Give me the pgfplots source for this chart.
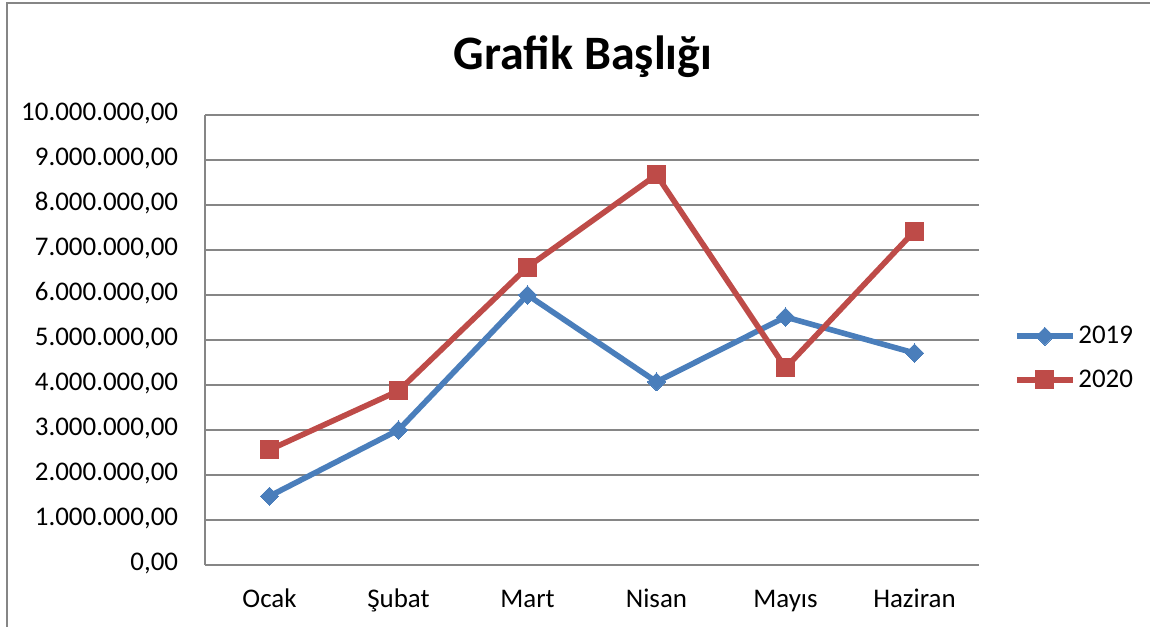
\documentclass[border=0pt]{standalone}
\usepackage{pgfplots}
\pgfplotsset{compat=1.18}
\usepackage{fontspec}
\setmainfont{Carlito}
\definecolor{s19}{HTML}{4A7EBB}
\definecolor{s20}{HTML}{BE4B48}
\definecolor{gridc}{HTML}{868686}
\begin{document}
\begin{tikzpicture}[x=0.75pt,y=0.75pt]
\useasboundingbox (0,0) rectangle (1150,627);
\draw[gridc, line width=1.5pt] (7,0) -- (7,624) -- (1150,624);
\node[font=\fontsize{36}{40}\selectfont\bfseries] at (583,570) {Grafik Başlığı};
\begin{axis}[
  at={(153.75pt,46.5pt)}, anchor=south west,
  scale only axis, width=580.5pt, height=337.5pt,
  xmin=-0.5, xmax=5.5, ymin=0, ymax=10000000,
  xtick={0,1,2,3,4,5},
  xticklabels={Ocak,Şubat,Mart,Nisan,Mayıs,Haziran},
  ytick={0,1000000,2000000,3000000,4000000,5000000,6000000,7000000,8000000,9000000,10000000},
  scaled y ticks=false,
  yticklabel style={/pgf/number format/fixed, /pgf/number format/fixed zerofill,
    /pgf/number format/precision=2, /pgf/number format/1000 sep={.},
    /pgf/number format/dec sep={,}, /pgf/number format/assume math mode=true,
    inner sep=0pt, anchor=mid east, xshift=-20pt, yshift=-2pt},
  xticklabel style={inner sep=0pt, anchor=base, yshift=-32pt},
  tick label style={font=\fontsize{20.2}{24}\selectfont},
  major tick length=0pt,
  axis x line*=bottom, axis y line*=left,
  axis line style={gridc, line width=1.1pt, -},
  ymajorgrids, grid style={gridc, line width=1.1pt},
  legend style={at={(1.045,0.46)}, anchor=west, draw=none, fill=none,
    font=\fontsize{20.2}{24}\selectfont, row sep=14pt, inner sep=0pt,
    /tikz/every even column/.append style={column sep=1pt}},
  legend cell align=left,
  legend image code/.code={\draw[mark repeat=2,mark phase=2,#1] plot coordinates {(0pt,0pt)(21pt,0pt)(42pt,0pt)};},
]
\addplot[s19, line width=4.2pt, mark=square*, mark size=4.8pt, mark options={solid, line width=0pt, rotate=45}]
  coordinates {(0,1530000)(1,3000000)(2,6000000)(3,4070000)(4,5510000)(5,4710000)};
\addlegendentry{2019}
\addplot[s20, line width=4.2pt, mark=square*, mark size=6.8pt, mark options={solid, line width=0pt}]
  coordinates {(0,2560000)(1,3870000)(2,6620000)(3,8670000)(4,4380000)(5,7420000)};
\addlegendentry{2020}
\end{axis}
\end{tikzpicture}
\end{document}
